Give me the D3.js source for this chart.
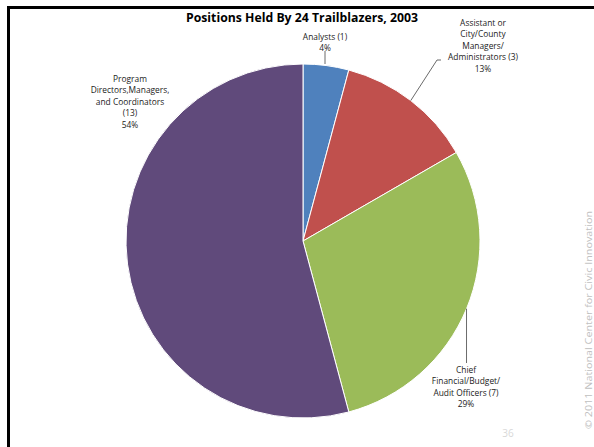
<!DOCTYPE html>
<html>
<head>
<meta charset="utf-8">
<script src="https://cdn.jsdelivr.net/npm/d3@7"></script>
<style>
  body { margin: 0; background: #fff; }
  svg { display: block; }
</style>
</head>
<body>
<div class="container"></div>
<script>
// 数据
const categories = ["Analysts", "Assistant or City/County Managers/ Administrators", "Chief Financial/Budget/ Audit Officers", "Program Directors,Managers, and Coordinators"];
const counts = [1, 3, 7, 13];
const labelLines = [
  ["Analysts (1)", "4%"],
  ["Assistant or", "City/County", "Managers/", "Administrators (3)", "13%"],
  ["Chief", "Financial/Budget/", "Audit Officers (7)", "29%"],
  ["Program", "Directors,Managers,", "and Coordinators", "(13)", "54%"]
];
const colors = ["#4f81bd", "#c0504d", "#9bbb59", "#604a7b"];
const title = "Positions Held By 24 Trailblazers, 2003";

const W = 594, H = 447;
const cx = 303, cy = 241, r = 177;

const svg = d3.select(".container").append("svg")
  .attr("width", W).attr("height", H);

// 边框（上、左）
svg.append("rect").attr("x", 7).attr("y", 6).attr("width", W).attr("height", 3).attr("fill", "#000");
svg.append("rect").attr("x", 7).attr("y", 6).attr("width", 3).attr("height", H).attr("fill", "#000");

// 标题
svg.append("text")
  .attr("x", 302).attr("y", 22)
  .attr("text-anchor", "middle")
  .style("font-family", "'Open Sans', sans-serif")
  .style("font-weight", "bold")
  .style("font-size", "13px")
  .attr("textLength", 232)
  .attr("lengthAdjust", "spacingAndGlyphs")
  .text(title);

// 饼图
const data = categories.map((c, i) => ({ name: c, value: counts[i], lines: labelLines[i], color: colors[i] }));
const pie = d3.pie().sort(null).value(d => d.value);
const arcs = pie(data);
const arc = d3.arc().innerRadius(0).outerRadius(r);

const g = svg.append("g").attr("transform", `translate(${cx},${cy})`);
g.selectAll("path")
  .data(arcs)
  .enter()
  .append("path")
  .attr("d", arc)
  .attr("fill", d => d.data.color)
  .attr("stroke", "#fff")
  .attr("stroke-width", 1);

// 标签位置（文字中心 x，首行基线 y）
const labelPos = [
  { x: 325, y: 40 },
  { x: 483, y: 26 },
  { x: 466, y: 373 },
  { x: 130, y: 82 }
];
const lineH = 11.4;

arcs.forEach((a, i) => {
  const p = labelPos[i];
  const t = svg.append("text")
    .attr("text-anchor", "middle")
    .style("font-family", "'Open Sans', sans-serif")
    .style("font-size", "8.4px")
    .attr("fill", "#222");
  a.data.lines.forEach((ln, j) => {
    t.append("tspan").attr("x", p.x).attr("y", p.y + j * lineH).text(ln);
  });
});

// 引线
const leader = d3.line();
const edge = a => {
  const m = (a.startAngle + a.endAngle) / 2;
  return [cx + r * Math.sin(m), cy - r * Math.cos(m)];
};
const e1 = edge(arcs[1]);
const e2 = edge(arcs[2]);
const leaders = [
  [[labelPos[0].x, 51], [labelPos[0].x, cy - r]],
  [e1, [437, 60], [441, 60]],
  [[e2[0], e2[1]], [e2[0], 363]]
];
svg.selectAll(".leader")
  .data(leaders)
  .enter()
  .append("path")
  .attr("class", "leader")
  .attr("d", leader)
  .attr("fill", "none")
  .attr("stroke", "#444")
  .attr("stroke-width", 0.8);

// 页码
svg.append("text")
  .attr("x", 508).attr("y", 437)
  .attr("text-anchor", "middle")
  .style("font-family", "'Open Sans', sans-serif")
  .style("font-size", "10px")
  .attr("fill", "#d8d8d8")
  .text("36");

// 版权
svg.append("text")
  .attr("transform", "translate(592,320) rotate(-90)")
  .attr("text-anchor", "middle")
  .style("font-family", "'Open Sans', sans-serif")
  .style("font-size", "9px")
  .attr("fill", "#c0c0c0")
  .attr("textLength", 218)
  .attr("lengthAdjust", "spacingAndGlyphs")
  .text("© 2011 National Center for Civic Innovation");
</script>
</body>
</html>
